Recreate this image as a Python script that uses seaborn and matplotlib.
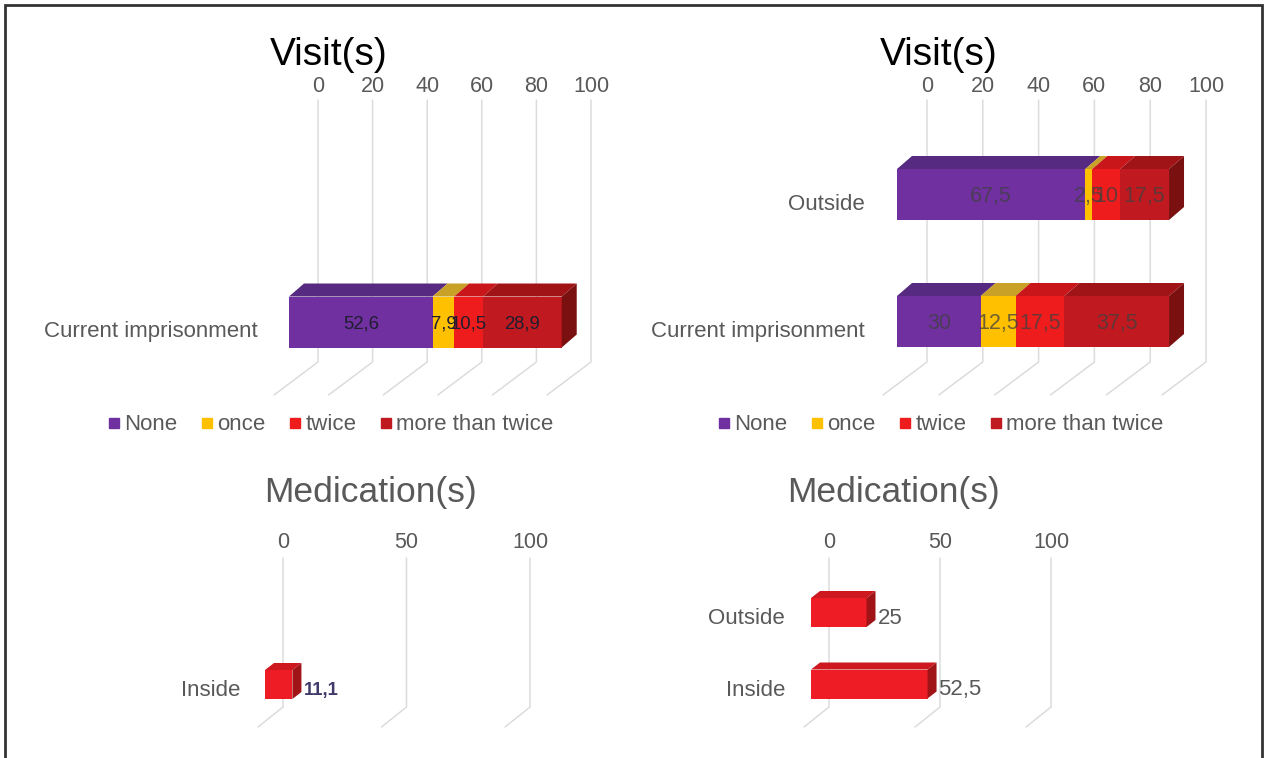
import matplotlib
matplotlib.use("Agg")
import matplotlib.pyplot as plt
import seaborn as sns
import pandas as pd
import numpy as np
from matplotlib.patches import Polygon, Rectangle
from matplotlib.lines import Line2D

# ---- data -------------------------------------------------------------
visit_series = ["None", "once", "twice", "more than twice"]

visit_left_cats = ["Current imprisonment"]
visit_left_values = [[52.6, 7.9, 10.5, 28.9]]

visit_right_cats = ["Outside", "Current imprisonment"]
visit_right_values = [[67.5, 2.5, 10, 17.5],
                      [30, 12.5, 17.5, 37.5]]

med_left_cats = ["Inside"]
med_left_values = [11.1]

med_right_cats = ["Outside", "Inside"]
med_right_values = [25, 52.5]

visit_ticks = [0, 20, 40, 60, 80, 100]
med_ticks = [0, 50, 100]

# ---- style ------------------------------------------------------------
W, H, DPI = 1267, 758, 100
sns.set_style("white")
plt.rcParams["font.family"] = ["Liberation Sans", "DejaVu Sans"]

GRID = "#dcdcdc"
TXT = "#595959"
FRONT = ["#7030a0", "#ffc000", "#ee1c1c", "#c0191f"]
TOP = ["#552a80", "#c9a126", "#c8161a", "#a01418"]
SIDE = "#7a1010"
MED_FRONT, MED_TOP, MED_SIDE = "#ee1c24", "#cc181e", "#a01418"


def fmt(v):
    return f"{v:g}".replace(".", ",")


fig = plt.figure(figsize=(W / DPI, H / DPI), dpi=DPI)


def make_panel(g):
    """Create axes whose data space maps onto the given pixel geometry."""
    left = g["x0"] - 70
    right = g["x0"] + 100 * g["sx"] + 70
    top = g["grid_top"] - 30
    bottom = g["floor_y"] + g["floor_dy"] + 5
    ax = fig.add_axes([left / W, 1 - bottom / H, (right - left) / W, (bottom - top) / H])
    return ax, (left, right, top, bottom)


def finish_panel(ax, g, box, ticks):
    left, right, top, bottom = box
    sx, sy, c0 = g["sx"], g["sy"], g["c0"]
    ax.set_xlim((left - g["x0"]) / sx, (right - g["x0"]) / sx)
    ax.set_ylim((bottom - c0) / sy, (top - c0) / sy)
    ax.set_axis_off()
    # back wall gridlines with the receding floor lines
    for v in ticks:
        xb = v + g["wall_dx"] / sx
        y_top = (g["grid_top"] - c0) / sy
        y_floor = (g["floor_y"] - c0) / sy
        y_front = (g["floor_y"] + g["floor_dy"] - c0) / sy
        ax.plot([xb, xb, xb + g["floor_dx"] / sx], [y_top, y_floor, y_front],
                color=GRID, lw=1.1, zorder=1, solid_joinstyle="miter")
        ax.text(xb, (g["tick_y"] - c0) / sy, str(v), ha="center", va="center",
                fontsize=15.5, color=TXT, clip_on=False)


def draw_faces(ax, g, i, segs, tops, side):
    sx, sy = g["sx"], g["sy"]
    w = g["bar_h"] / sy
    ddx, ddy = g["depth"][0] / sx, -g["depth"][1] / sy
    y0, y1 = i - w / 2, i + w / 2
    for (a, b), c in zip(segs, tops):
        if b - a <= 0:
            continue
        ax.add_patch(Polygon([(a, y0), (b, y0), (b + ddx, y0 + ddy), (a + ddx, y0 + ddy)],
                             closed=True, facecolor=c, edgecolor="none", zorder=4))
    r = segs[-1][1]
    ax.add_patch(Polygon([(r, y0), (r + ddx, y0 + ddy), (r + ddx, y1 + ddy), (r, y1)],
                         closed=True, facecolor=side, edgecolor="none", zorder=4))


def visit_panel(g, cats, values, label_kw):
    ax, box = make_panel(g)
    vals = np.array(values, dtype=float)
    cum = np.cumsum(vals, axis=1)
    w = g["bar_h"] / g["sy"]
    # stacked fronts: longest cumulative first, shorter ones painted over it
    for k in reversed(range(len(visit_series))):
        df = pd.DataFrame({"cat": cats, "val": cum[:, k]})
        sns.barplot(data=df, x="val", y="cat", order=cats, orient="h", color=FRONT[k],
                    width=w, saturation=1, errorbar=None, linewidth=0, ax=ax, zorder=3)
    finish_panel(ax, g, box, visit_ticks)
    for i, cat in enumerate(cats):
        starts = np.concatenate([[0], cum[i, :-1]])
        segs = list(zip(starts, cum[i]))
        draw_faces(ax, g, i, segs, TOP, SIDE)
        for (a, b), v in zip(segs, vals[i]):
            ax.text((a + b) / 2, i + 2 / g["sy"], fmt(v), ha="center", va="center",
                    zorder=6, **label_kw)
        ax.text(-g["lab_gap"] / g["sx"], i + g["lab_dy"] / g["sy"], cat, ha="right",
                va="center", fontsize=16, color=TXT, clip_on=False)
    return ax


def med_panel(g, cats, values, label_color):
    ax, box = make_panel(g)
    w = g["bar_h"] / g["sy"]
    df = pd.DataFrame({"cat": cats, "val": values})
    sns.barplot(data=df, x="val", y="cat", order=cats, orient="h", color=MED_FRONT,
                width=w, saturation=1, errorbar=None, linewidth=0, ax=ax, zorder=3)
    finish_panel(ax, g, box, med_ticks)
    for i, (cat, v) in enumerate(zip(cats, values)):
        draw_faces(ax, g, i, [(0, v)], [MED_TOP], MED_SIDE)
        ax.text(v + (g["depth"][0] + 2) / g["sx"], i + g["lab_dy"] / g["sy"], fmt(v),
                ha="left", va="center", fontsize=label_color[1], color=label_color[0],
                fontweight=label_color[2], zorder=6)
        ax.text(-g["lab_gap"] / g["sx"], i + g["lab_dy"] / g["sy"], cat, ha="right",
                va="center", fontsize=16, color=TXT, clip_on=False)
    return ax


top_common = dict(sy=127, bar_h=51, grid_top=100, floor_y=362, floor_dx=-44,
                  floor_dy=33, depth=(15, 13), tick_y=86, lab_dy=10)
g_tl = dict(top_common, x0=289, sx=2.73, c0=322, wall_dx=29, lab_gap=31)
g_tr = dict(top_common, x0=897, sx=2.79, c0=194.5, wall_dx=30, lab_gap=32)

bot_common = dict(sy=71.5, bar_h=29, grid_top=558, floor_y=707, floor_dx=-25,
                  floor_dy=20, depth=(9, 7), tick_y=543, lab_dy=6, wall_dx=18)
g_bl = dict(bot_common, x0=265, sx=2.47, c0=684.5, lab_gap=25)
g_br = dict(bot_common, x0=811, sx=2.22, c0=612.5, lab_gap=26)

visit_panel(g_tl, visit_left_cats, visit_left_values,
            dict(fontsize=13.3, color="#1e1e30"))
visit_panel(g_tr, visit_right_cats, visit_right_values,
            dict(fontsize=15.5, color="#404040", alpha=0.75))
med_panel(g_bl, med_left_cats, med_left_values, ("#3f3a6a", 13.3, "bold"))
med_panel(g_br, med_right_cats, med_right_values, (TXT, 16, "normal"))

# titles
for x in (329, 939):
    fig.text(x / W, 1 - 55 / H, "Visit(s)", ha="center", va="center",
             fontsize=28, color="black")
for x in (371, 893):
    fig.text(x / W, 1 - 492 / H, "Medication(s)", ha="center", va="center",
             fontsize=25.5, color=TXT)

# legends
handles = [Line2D([], [], marker="s", ls="", color=c, markersize=6.5) for c in FRONT]
for x in (331, 941):
    fig.legend(handles, visit_series, loc="center", bbox_to_anchor=(x / W, 1 - 425 / H),
               ncol=4, frameon=False, fontsize=16, handlelength=0.5, handletextpad=0.2,
               columnspacing=1.1, labelcolor=TXT, borderaxespad=0)

# outer frame
fig.add_artist(Rectangle((5 / W, -0.02), 1257 / W, 1 - 5 / H + 0.02, fill=False,
                         edgecolor="#333333", lw=2, transform=fig.transFigure))

fig.savefig("out.png", dpi=DPI)
